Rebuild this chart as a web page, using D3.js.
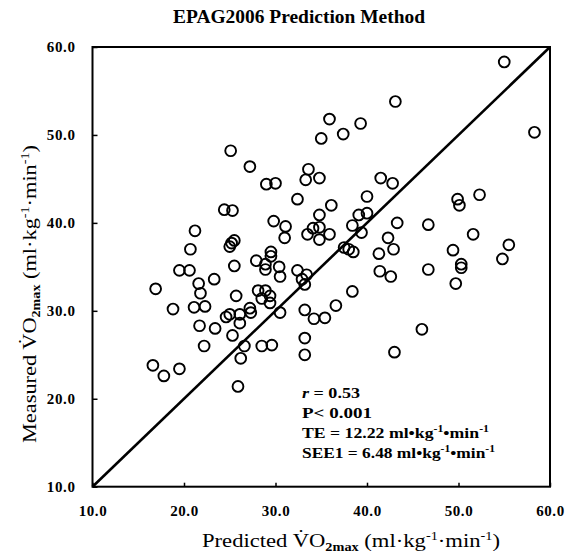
<!DOCTYPE html>
<html>
<head>
<meta charset="utf-8">
<script src="https://cdn.jsdelivr.net/npm/d3@7"></script>
<style>
  body { margin: 0; background: #fff; }
  text { font-family: "Liberation Serif", "Times New Roman", serif; fill: #000; }
  .tick text { font-weight: bold; font-size: 15px; letter-spacing: 0.6px; }
  .tick line { stroke: #000; stroke-width: 1.5; }
</style>
</head>
<body>
<svg id="chart" width="573" height="554"></svg>
<script>
// values (x = predicted, y = measured VO2max)
const predicted = [
  25.1, 27.2, 29.0, 30.0, 33.6, 33.3, 32.4, 24.4, 25.3, 29.8,
  31.1, 31.0, 33.5, 21.2, 20.7, 19.5, 20.6, 21.6, 23.3, 16.9,
  25.0, 25.2, 25.5, 25.5, 27.9, 29.5, 29.5, 28.9, 28.9, 30.4,
  30.5, 32.4, 33.4, 32.9, 33.2, 21.8, 18.8, 21.1, 22.3, 21.7,
  23.4, 22.2, 16.6, 17.8, 19.5, 25.7, 24.6, 25.0, 26.1, 26.1,
  25.3, 26.6, 26.2, 25.9, 27.2, 27.3, 28.1, 28.9, 28.5, 29.4,
  29.4, 30.5, 28.5, 29.6, 41.4, 42.6, 46.7, 50.3, 50.3, 49.7,
  38.4, 36.6, 33.2, 34.2, 35.4, 33.2, 33.2, 46.0, 43.0, 43.1,
  35.9, 39.3, 35.0, 37.4, 34.8, 41.5, 42.8, 40.0, 36.1, 34.8,
  39.1, 40.0, 38.4, 39.4, 34.1, 34.8, 34.8, 35.9, 43.3, 46.7,
  42.3, 42.9, 41.3, 37.5, 38.5, 38.0, 49.4, 51.6, 49.9, 50.1,
  52.3, 55.5, 54.8, 55.0, 58.3
];
const measured = [
  48.2, 46.4, 44.4, 44.5, 46.1, 44.9, 42.7, 41.5, 41.4, 40.2,
  39.6, 38.3, 38.7, 39.1, 37.0, 34.6, 34.6, 33.1, 33.6, 32.5,
  37.3, 37.7, 38.0, 35.1, 35.7, 36.7, 36.2, 35.3, 34.7, 35.0,
  33.9, 34.6, 34.1, 33.6, 33.0, 32.0, 30.2, 30.4, 30.5, 28.3,
  28.0, 26.0, 23.8, 22.6, 23.4, 31.7, 29.3, 29.6, 29.6, 28.6,
  27.2, 26.0, 24.6, 21.4, 30.3, 29.8, 32.3, 32.3, 31.4, 31.7,
  30.9, 29.8, 26.0, 26.1, 34.5, 33.9, 34.7, 34.9, 35.3, 33.1,
  32.2, 30.6, 30.1, 29.1, 29.2, 26.9, 25.0, 27.9, 25.3, 53.8,
  51.8, 51.3, 49.6, 50.1, 45.1, 45.1, 44.5, 43.0, 42.0, 40.9,
  40.9, 41.1, 39.7, 38.9, 39.4, 39.5, 38.1, 38.7, 40.0, 39.8,
  38.3, 37.0, 36.5, 37.2, 36.7, 37.0, 36.9, 38.7, 42.7, 42.0,
  43.2, 37.5, 35.9, 58.3, 50.3
];
const tickValues = [10, 20, 30, 40, 50, 60];
const axisDomain = [10, 60];

const title = 'EPAG2006 Prediction Method';
const statR = '0.53';
const statP = 'P< 0.001';
const statTE = 'TE = 12.22 ';
const statSEE = 'SEE1 = 6.48 ';

const svg = d3.select('#chart');
const plot = { left: 92.5, right: 550, top: 47, bottom: 486.7 };

const xScale = d3.scaleLinear().domain(axisDomain).range([plot.left, plot.right]);
const yScale = d3.scaleLinear().domain(axisDomain).range([plot.bottom, plot.top]);

const data = predicted.map((p, i) => ({ x: p, y: measured[i] }));

// title
svg.append('text')
  .attr('x', 299).attr('y', 22.7)
  .attr('text-anchor', 'middle')
  .attr('font-weight', 'bold')
  .attr('font-size', 18)
  .attr('textLength', 252)
  .attr('lengthAdjust', 'spacingAndGlyphs')
  .text(title);

// axes (inward ticks, frame drawn separately)
const xAxis = d3.axisBottom(xScale)
  .tickValues(tickValues)
  .tickFormat(d3.format('.1f'))
  .tickSizeInner(-4)
  .tickSizeOuter(0)
  .tickPadding(19);
const yAxis = d3.axisLeft(yScale)
  .tickValues(tickValues)
  .tickFormat(d3.format('.1f'))
  .tickSizeInner(-5)
  .tickSizeOuter(0)
  .tickPadding(17);

svg.append('g').attr('transform', `translate(0,${plot.bottom})`).call(xAxis)
  .call(g => g.select('.domain').remove())
  .call(g => g.attr('font-family', null).attr('font-size', null));
svg.append('g').attr('transform', `translate(${plot.left},0)`).call(yAxis)
  .call(g => g.select('.domain').remove())
  .call(g => g.attr('font-family', null).attr('font-size', null));

// frame
svg.append('rect')
  .attr('x', plot.left).attr('y', plot.top)
  .attr('width', plot.right - plot.left).attr('height', plot.bottom - plot.top)
  .attr('fill', 'none')
  .attr('stroke', '#000')
  .attr('stroke-width', 2);

// line of identity
svg.append('line')
  .attr('x1', xScale(axisDomain[0])).attr('y1', yScale(axisDomain[0]))
  .attr('x2', xScale(axisDomain[1])).attr('y2', yScale(axisDomain[1]))
  .attr('stroke', '#000')
  .attr('stroke-width', 2.6);

// points
svg.append('g').selectAll('circle').data(data)
  .enter().append('circle')
    .attr('cx', d => xScale(d.x))
    .attr('cy', d => yScale(d.y))
    .attr('r', 5.4)
    .attr('fill', 'none')
    .attr('stroke', '#000')
    .attr('stroke-width', 1.9);

// superscript helper: ml·kg-1·min-1
const addUnits = (t, dot, supSize, lift) => {
  t.append('tspan').text('ml' + dot + 'kg');
  t.append('tspan').attr('dy', -lift).attr('font-size', supSize).text('-1');
  t.append('tspan').attr('dy', lift).text(dot + 'min');
  t.append('tspan').attr('dy', -lift).attr('font-size', supSize).text('-1');
};

// statistics block
const statG = svg.append('g')
  .attr('font-weight', 'bold')
  .attr('font-size', 15);

const rLine = statG.append('text').attr('x', 302).attr('y', 398.3)
  .attr('textLength', 58).attr('lengthAdjust', 'spacingAndGlyphs');
rLine.append('tspan').attr('font-style', 'italic').text('r');
rLine.append('tspan').text(' = ' + statR);

statG.append('text').attr('x', 302).attr('y', 418.3)
  .attr('textLength', 70).attr('lengthAdjust', 'spacingAndGlyphs')
  .text(statP);

const teLine = statG.append('text').attr('x', 302).attr('y', 438.3)
  .attr('textLength', 187).attr('lengthAdjust', 'spacingAndGlyphs');
teLine.append('tspan').text(statTE);
addUnits(teLine, '\u2022', 10, 6);

const seeLine = statG.append('text').attr('x', 302).attr('y', 458.3)
  .attr('textLength', 193).attr('lengthAdjust', 'spacingAndGlyphs');
seeLine.append('tspan').text(statSEE);
addUnits(seeLine, '\u2022', 10, 6);

// axis titles
const axisTitle = (t, lead) => {
  t.attr('text-anchor', 'middle')
    .attr('font-size', 19)
    .attr('textLength', 298)
    .attr('lengthAdjust', 'spacingAndGlyphs');
  t.append('tspan').text(lead + ' V\u0307O');
  t.append('tspan').attr('dy', 4).attr('font-size', 12).attr('font-weight', 'bold').text('2max');
  t.append('tspan').attr('dy', -4).text(' (');
  addUnits(t, '\u00b7', 12, 7);
  t.append('tspan').attr('dy', 7).text(')');
};

axisTitle(svg.append('text').attr('x', 351).attr('y', 547), 'Predicted');
axisTitle(
  svg.append('text').attr('transform', 'translate(35.5,294) rotate(-90)'),
  'Measured'
);
</script>
</body>
</html>
